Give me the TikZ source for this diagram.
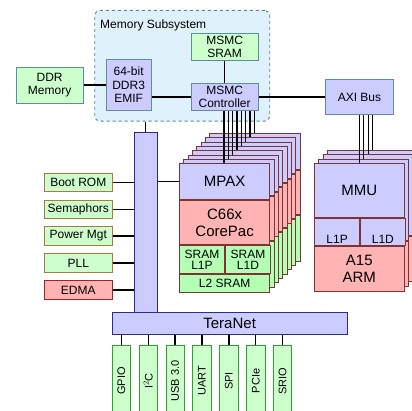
\documentclass[tikz,border=0pt]{standalone}
\usepackage{fontspec}
\setmainfont{Liberation Sans}
\begin{document}
\begin{tikzpicture}[x=1pt,y=-1pt,line join=miter,
  box/.style={draw,inner sep=0pt,anchor=north west,align=center,line width=0.9pt},
  fs/.style={font=\fontsize{12}{12.5}\selectfont},
  fl/.style={font=\fontsize{15}{17}\selectfont},
  fsm/.style={font=\fontsize{11}{12}\selectfont},
  memc/.style={box,fs,draw=steelb},
  lav/.style={fill=lavc},
  grn/.style={fill=grnc},
  pnk/.style={fill=pnkc},
  stk/.style={box,draw=stkc},
  conn/.style={line width=1.3pt,black},
]
\definecolor{lavc}{HTML}{CCCCFF}
\definecolor{grnc}{HTML}{CCFFCC}
\definecolor{grn2}{HTML}{B3FFB3}
\definecolor{pnkc}{HTML}{FFB3B3}
\definecolor{steelb}{HTML}{5A8FA3}
\definecolor{memfill}{HTML}{DFF1FA}
\definecolor{memdash}{HTML}{4E8AA6}
\definecolor{busb}{HTML}{2A2AA0}
\definecolor{brn}{HTML}{B07840}
\definecolor{edmab}{HTML}{A02424}
\definecolor{perb}{HTML}{30A030}
\definecolor{stkc}{HTML}{7E3434}
\useasboundingbox (0,0) rectangle (412,411);

% Memory subsystem
\node[draw=memdash,fill=memfill,dashed,line width=0.9pt,rounded corners=5pt,inner sep=0pt,anchor=north west,minimum width=175pt,minimum height=110.7pt] (mem) at (94.3,10) {};
\node[fs,anchor=west,inner sep=0pt] (memlbl) at (100,25) {Memory Subsystem};

\node[memc,grn,minimum width=67pt,minimum height=36pt] (ddr) at (15.7,66.7) {DDR\\Memory};
\node[memc,lav,minimum width=45pt,minimum height=50.7pt,font=\fontsize{12}{13.5}\selectfont] (emif) at (105.7,59.3) {64-bit\\DDR3\\EMIF};
\node[memc,grn,minimum width=67pt,minimum height=26.7pt] (sram) at (190.7,33.3) {MSMC\\SRAM};
\node[memc,lav,minimum width=67pt,minimum height=26.7pt] (ctrl) at (190.7,83.3) {MSMC\\Controller};
\node[memc,lav,minimum width=67.4pt,minimum height=35.6pt] (axi) at (325.3,78.7) {AXI Bus};

\draw[conn] (ddr.east) -- (ddr.east -| emif.west);
\draw[conn] (ctrl.west) -- (ctrl.west -| emif.east);
\draw[conn] (sram.south) -- (ctrl.north);
\draw[conn] (ctrl.east) -- (ctrl.east -| axi.west);

% Vertical bus and TeraNet
\node[box,lav,draw=busb,minimum width=22.7pt,minimum height=180pt] (bus) at (134,132.3) {};
\draw[conn] (bus.north) -- (bus.north |- mem.south);
\node[box,lav,draw=busb,fl,minimum width=235pt,minimum height=21.7pt] (tera) at (111.7,312.3) {TeraNet};

% Left peripherals
\foreach \n/\t/\k in {boot/Boot ROM/0,sema/Semaphors/1,pwr/Power Mgt/2,pll/PLL/3} {
  \node[box,grn,draw=brn,fs,minimum width=67.7pt,minimum height=18.3pt] (\n) at (44,172.7+26.9*\k) {\t};
  \draw[conn] (\n.east) -- (\n.east -| bus.west);
}
\node[box,pnk,draw=edmab,fs,minimum width=67.7pt,minimum height=18.3pt] (edma) at (44,280.3) {EDMA};
\draw[conn] (edma.east) -- (edma.east -| bus.west);

% Bottom peripherals
\foreach \n/\t/\k in {gpio/GPIO/0,iic/I$^2$C/1,usb/USB 3.0/2,uart/UART/3,spi/SPI/4,pcie/PCIe/5,srio/SRIO/6} {
  \node[box,grn,draw=perb,minimum width=18.3pt,minimum height=70pt] (\n) at (111.7+26.9*\k,345) {};
  \node[fsm,rotate=90,anchor=center,inner sep=0pt] (\n t) at ([yshift=-36pt]\n.north) {\t};
  \draw[conn] (\n.north) -- (\n.north |- tera.south);
}

% C66x stack (back layers)
\foreach \i in {7,6,...,1} {
  \node[stk,lav,minimum width=90.3pt,minimum height=36pt] (mpax\i) at (179+4.33*\i,163.3-4.33*\i) {};
  \node[stk,pnk,minimum width=90.3pt,minimum height=44pt] (core\i) at (mpax\i.south west) {};
  \node[stk,fill=grn2,minimum width=90.3pt,minimum height=46pt] (l2\i) at (core\i.south west) {};
}
% front layer
\node[stk,lav,fl,minimum width=90.3pt,minimum height=36pt] (mpax0) at (179,163.3) {MPAX};
\node[stk,pnk,fl,minimum width=90.3pt,minimum height=44pt] (core0) at (mpax0.south west) {C66x\\CorePac};
\node[stk,fill=grn2,font=\fontsize{12}{11}\selectfont,minimum width=45pt,minimum height=28.4pt] (l1p0) at (core0.south west) {SRAM\\L1P};
\node[stk,fill=grn2,font=\fontsize{12}{11}\selectfont,minimum width=45.3pt,minimum height=28.4pt] (l1d0) at (l1p0.north east) {SRAM\\L1D};
\node[stk,fill=grn2,fs,minimum width=90.3pt,minimum height=17.6pt] (l2s0) at (l1p0.south west) {L2 SRAM};
\foreach \i in {0,...,7} {
  \path (mpax\i.north west) ++(45pt,0) coordinate (ct\i);
  \draw[conn,line width=1.1pt] (ct\i) -- (ct\i |- ctrl.south);
}

% A15 stack
\foreach \i in {3,2,1} {
  \node[stk,lav,minimum width=89.7pt,minimum height=81pt] (mmu\i) at (314+4.4*\i,163.3-4.4*\i) {};
  \node[stk,pnk,minimum width=89.7pt,minimum height=45pt] (arm\i) at (mmu\i.south west) {};
}
\node[stk,lav,fl,minimum width=89.7pt,minimum height=53.4pt] (mmu0) at (314,163.3) {MMU};
\node[stk,lav,minimum width=45.3pt,minimum height=27.6pt] (l1pa) at (mmu0.south west) {};
\node[fs,anchor=south,inner sep=0pt] (l1pat) at ([yshift=2.5pt]l1pa.south) {L1P};
\node[stk,lav,minimum width=44.4pt,minimum height=27.6pt] (l1da) at (l1pa.north east) {};
\node[fs,anchor=south,inner sep=0pt] (l1dat) at ([yshift=2.5pt]l1da.south) {L1D};
\node[stk,pnk,fl,minimum width=89.7pt,minimum height=45pt] (arm0) at (l1pa.south west) {A15\\ARM};
\foreach \i in {0,...,3} {
  \path (mmu\i.north west) ++(45.3pt,0) coordinate (at\i);
  \draw[conn,line width=1.1pt] (at\i) -- (at\i |- axi.south);
}

% bus to MPAX
\draw[conn] (mpax0.west) -- (mpax0.west -| bus.east);
\end{tikzpicture}
\end{document}
